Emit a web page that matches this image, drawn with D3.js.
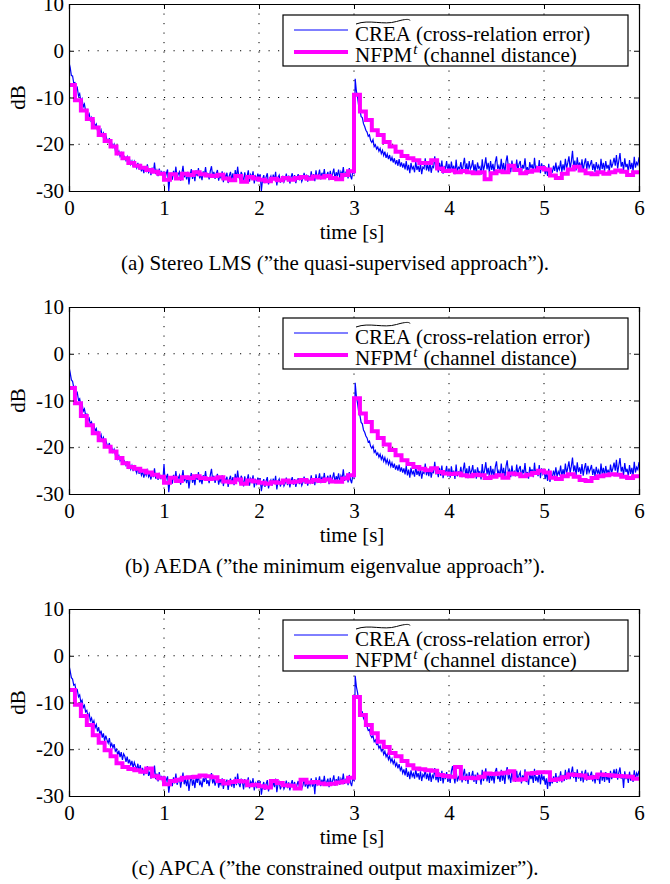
<!DOCTYPE html>
<html>
<head>
<meta charset="utf-8">
<script src="https://cdn.jsdelivr.net/npm/d3@7"></script>
<style>
  html, body { margin: 0; padding: 0; background: #fff; }
  svg { display: block; }
  text { font-family: "Liberation Serif", "Times New Roman", serif; fill: #000; }
</style>
</head>
<body>
<svg id="chart" width="670" height="884"></svg>
<script>
// ---------------- data ----------------
const timeTicks = [0, 1, 2, 3, 4, 5, 6];
const dbTicks = [-30, -20, -10, 0, 10];
const creaStep = 0.0125;  // seconds between CREA samples
const nfpmStep = 0.0625;  // seconds per NFPM block

// (a) Stereo LMS — CREA, one row = 0.25 s
const creaA = [
-2.5,-3.6,-5.3,-5.4,-6.9,-6.8,-8.4,-7.9,-9.7,-9.2,-10.9,-10.3,-12.0,-11.4,-12.9,-12.6,-14.0,-13.5,-14.9,-14.3,
-15.6,-15.0,-16.2,-15.7,-17.1,-16.4,-17.5,-16.9,-18.2,-17.6,-18.9,-18.1,-19.0,-19.5,-18.7,-20.3,-19.8,-20.6,-20.0,-21.3,
-21.0,-22.1,-21.5,-22.6,-21.9,-23.0,-22.4,-22.8,-23.5,-22.7,-23.9,-23.2,-24.3,-23.6,-24.8,-23.7,-24.5,-25.1,-24.0,-25.4,
-24.6,-25.8,-24.9,-26.2,-25.1,-25.7,-24.3,-26.0,-25.5,-26.6,-25.0,-26.1,-23.9,-26.4,-25.6,-26.8,-25.2,-26.3,-25.9,-27.1,
-25.8,-27.3,-26.2,-25.4,-30.0,-27.0,-26.1,-27.6,-25.7,-26.9,-24.8,-27.2,-26.4,-25.9,-27.8,-26.3,-24.6,-27.1,-26.0,-27.5,
-25.9,-28.6,-26.6,-25.3,-27.4,-26.1,-27.9,-25.6,-26.8,-25.1,-27.3,-26.5,-27.7,-25.8,-26.6,-24.9,-27.0,-26.2,-27.5,-25.7,
-24.7,-26.9,-25.9,-27.4,-26.3,-25.5,-27.8,-26.6,-27.2,-25.8,-28.1,-26.4,-27.0,-26.1,-28.3,-26.7,-25.9,-27.6,-26.2,-27.9,
-25.5,-27.3,-24.8,-26.9,-27.7,-25.9,-26.6,-28.2,-26.0,-27.4,-26.8,-25.6,-28.0,-26.5,-27.1,-25.8,-28.4,-26.9,-27.6,-26.3,
-27.2,-26.4,-30.0,-27.5,-26.6,-28.3,-27.0,-26.2,-28.6,-27.4,-26.8,-28.0,-26.5,-27.7,-25.9,-28.8,-27.1,-26.6,-28.2,-27.3,
-26.9,-28.1,-27.5,-26.3,-27.9,-26.7,-28.4,-27.0,-26.2,-27.8,-26.6,-28.3,-27.2,-26.4,-27.7,-26.8,-28.0,-27.3,-26.1,-27.6,
-26.5,-28.0,-26.9,-27.4,-25.8,-27.6,-26.4,-27.9,-25.6,-27.2,-26.7,-25.4,-27.5,-26.1,-27.0,-25.3,-27.3,-26.6,-25.9,-27.7,
-25.7,-27.1,-26.3,-25.2,-27.4,-26.0,-26.8,-25.4,-27.2,-25.9,-26.6,-24.9,-27.0,-26.2,-25.5,-27.3,-25.1,-26.7,-27.5,-25.8,
-26.2,-6.0,-8.6,-10.0,-11.9,-12.6,-14.1,-14.3,-15.6,-16.2,-17.0,-17.4,-18.3,-18.0,-19.2,-19.6,-19.0,-20.5,-20.1,-21.0,
-20.6,-21.5,-20.9,-22.0,-21.3,-22.4,-21.6,-22.9,-22.1,-23.2,-22.3,-23.6,-22.8,-23.9,-23.0,-24.3,-23.4,-24.6,-23.2,-24.8,
-23.9,-25.0,-24.1,-25.4,-23.6,-25.6,-24.4,-26.2,-24.0,-25.3,-24.8,-26.0,-23.7,-25.5,-24.6,-25.9,-24.2,-26.4,-24.9,-25.2,
-23.0,-25.6,-24.3,-25.8,-23.9,-26.1,-24.7,-25.0,-22.6,-25.4,-24.5,-26.0,-24.0,-25.7,-23.5,-26.3,-24.8,-25.1,-23.6,-25.9,
-24.2,-26.1,-23.7,-25.5,-24.6,-26.4,-23.3,-25.8,-24.9,-25.2,-23.8,-26.0,-24.4,-22.9,-25.6,-24.1,-26.2,-23.6,-25.3,-24.7,
-23.4,-25.9,-24.3,-26.3,-23.9,-25.1,-24.8,-26.5,-23.2,-25.7,-24.5,-22.8,-25.4,-24.0,-26.0,-23.6,-25.5,-24.2,-26.1,-23.8,
-22.6,-25.3,-24.6,-25.9,-23.1,-25.6,-24.0,-26.2,-23.7,-22.4,-25.0,-24.4,-26.0,-23.5,-25.4,-24.8,-25.8,-23.3,-25.5,-24.2,
-23.6,-26.1,-24.4,-25.2,-23.0,-25.7,-24.9,-26.3,-23.8,-25.1,-24.3,-26.0,-22.9,-25.5,-24.6,-25.8,-23.4,-26.2,-24.1,-25.3,
-24.5,-26.4,-25.0,-26.8,-24.2,-27.0,-25.3,-26.1,-24.6,-25.7,-23.9,-26.0,-24.8,-25.4,-23.5,-25.9,-24.3,-25.6,-23.1,-25.2,
-24.0,-22.6,-25.1,-23.7,-21.4,-24.8,-23.5,-25.6,-22.8,-24.9,-23.9,-25.3,-23.2,-25.7,-24.1,-23.0,-25.4,-23.6,-25.0,-24.3,
-23.4,-25.5,-24.2,-25.9,-23.8,-25.1,-24.5,-26.0,-23.1,-25.3,-24.0,-25.7,-23.6,-25.2,-24.4,-25.8,-23.3,-25.0,-24.1,-22.9,
-24.6,-22.3,-25.2,-23.5,-21.9,-24.8,-23.8,-25.6,-23.0,-24.9,-24.2,-25.9,-23.4,-25.3,-24.0,-25.7,-22.7,-25.0,-23.9,-24.4,
-22.8
];
// (a) NFPM^t, one row = 1 s
const nfpmA = [
-7.3,-10.6,-12.8,-14.6,-16.4,-18.0,-19.3,-20.5,-22.0,-23.0,-24.0,-24.6,-25.0,-25.5,-25.9,-26.3,
-27.6,-26.4,-27.3,-26.3,-26.6,-26.0,-26.4,-26.7,-26.8,-26.5,-27.3,-27.7,-26.8,-28.0,-27.0,-27.3,
-27.6,-27.9,-27.4,-27.7,-27.2,-27.6,-27.2,-27.0,-27.4,-26.9,-27.1,-26.8,-27.2,-27.5,-26.6,-25.8,
-9.4,-13.0,-14.8,-17.0,-18.0,-19.5,-20.5,-21.6,-22.5,-23.0,-23.4,-24.0,-24.0,-23.4,-25.2,-25.7,
-25.6,-26.0,-25.7,-26.0,-26.2,-26.0,-27.5,-26.2,-25.8,-26.0,-24.6,-25.5,-26.2,-25.9,-25.6,-25.1,
-25.4,-26.7,-27.2,-26.3,-25.4,-24.8,-25.6,-26.2,-26.4,-26.0,-26.3,-26.0,-25.6,-25.9,-26.6,-26.0
];

// (b) AEDA — CREA
const creaB = [
-2.8,-4.1,-5.6,-5.9,-7.2,-7.0,-8.7,-8.3,-9.9,-9.6,-11.2,-10.6,-12.3,-11.8,-13.2,-12.9,-14.3,-13.8,-15.1,-14.6,
-15.9,-15.3,-16.5,-16.0,-17.4,-16.8,-17.9,-17.3,-18.6,-17.9,-19.2,-18.5,-19.4,-19.9,-19.1,-20.6,-20.1,-21.0,-20.4,-21.6,
-21.4,-22.5,-21.8,-22.9,-22.3,-23.4,-22.7,-23.1,-23.9,-23.0,-24.3,-23.6,-24.7,-23.9,-25.1,-24.1,-24.8,-25.5,-24.3,-25.7,
-24.9,-26.0,-25.2,-26.5,-25.4,-26.0,-24.6,-26.3,-25.8,-26.9,-25.3,-26.4,-24.5,-26.7,-25.9,-27.0,-25.5,-26.6,-26.2,-27.3,
-23.6,-27.5,-26.4,-25.7,-29.6,-27.2,-26.3,-27.8,-25.9,-27.1,-25.1,-27.4,-26.6,-26.0,-28.0,-26.5,-24.9,-27.3,-26.2,-27.7,
-26.1,-28.8,-26.8,-25.5,-27.6,-26.3,-28.1,-25.8,-27.0,-25.3,-27.5,-26.7,-27.9,-26.0,-26.8,-25.1,-27.2,-26.4,-27.7,-25.9,
-24.6,-27.1,-26.1,-27.6,-26.5,-25.7,-28.0,-26.8,-27.4,-26.0,-28.3,-26.6,-27.2,-26.3,-28.5,-26.9,-26.1,-27.8,-26.4,-28.1,
-25.7,-27.5,-25.0,-27.1,-27.9,-26.1,-26.8,-28.4,-26.2,-27.6,-27.0,-25.8,-28.2,-26.7,-27.3,-26.0,-28.6,-27.1,-27.8,-26.5,
-27.4,-26.6,-29.4,-27.7,-26.8,-28.5,-27.2,-26.4,-28.8,-27.6,-27.0,-28.2,-26.7,-27.9,-26.1,-29.0,-27.3,-26.8,-28.4,-27.5,
-27.1,-28.3,-27.7,-26.5,-28.1,-26.9,-28.6,-27.2,-26.4,-28.0,-26.8,-28.5,-27.4,-26.6,-27.9,-27.0,-28.2,-27.5,-26.3,-27.8,
-26.7,-28.2,-27.1,-27.6,-26.0,-27.8,-26.6,-28.1,-25.8,-27.4,-26.9,-25.6,-27.7,-26.3,-27.2,-25.5,-27.5,-26.8,-26.1,-27.9,
-25.9,-27.3,-26.5,-25.4,-27.6,-26.2,-27.0,-25.6,-27.4,-26.1,-26.8,-24.7,-27.2,-26.4,-25.7,-27.5,-25.3,-26.9,-27.7,-26.0,
-26.4,-6.2,-9.1,-10.6,-12.5,-13.2,-14.7,-15.0,-16.3,-16.8,-17.6,-18.0,-18.9,-18.7,-19.8,-20.2,-19.7,-21.1,-20.7,-21.6,
-21.2,-22.1,-21.5,-22.6,-21.9,-23.0,-22.2,-23.4,-22.6,-23.7,-22.9,-24.1,-23.3,-24.4,-23.5,-24.8,-23.9,-25.0,-23.7,-25.2,
-24.3,-25.4,-24.5,-25.8,-24.0,-26.0,-24.8,-26.5,-24.4,-25.7,-25.2,-26.3,-24.1,-25.9,-25.0,-26.2,-24.6,-26.7,-25.3,-25.6,
-23.5,-26.0,-24.7,-26.2,-24.3,-26.5,-25.1,-25.4,-23.1,-25.8,-24.9,-26.4,-24.4,-26.1,-23.9,-26.6,-25.2,-25.5,-24.0,-26.3,
-24.6,-26.5,-24.1,-25.9,-25.0,-26.8,-23.7,-26.2,-25.3,-25.6,-24.2,-26.4,-24.8,-23.3,-26.0,-24.5,-26.6,-24.0,-25.7,-25.1,
-23.8,-26.3,-24.7,-26.7,-24.3,-25.5,-25.2,-26.9,-23.6,-26.1,-24.9,-23.2,-25.8,-24.4,-26.4,-24.0,-25.9,-24.6,-26.5,-24.2,
-23.0,-25.7,-25.0,-26.3,-23.5,-26.0,-24.4,-26.6,-24.1,-22.8,-25.4,-24.8,-26.4,-23.9,-25.8,-25.2,-26.2,-23.7,-25.9,-24.6,
-24.0,-26.5,-24.8,-25.6,-23.4,-26.1,-25.3,-26.7,-24.2,-25.5,-24.7,-26.4,-23.3,-25.9,-25.0,-26.2,-23.8,-26.6,-24.5,-25.7,
-24.9,-26.8,-25.4,-27.2,-24.6,-27.4,-25.7,-26.5,-25.0,-26.1,-24.3,-26.4,-25.2,-25.8,-23.9,-26.3,-24.7,-26.0,-23.5,-25.6,
-24.4,-23.0,-25.5,-24.1,-22.2,-25.2,-23.9,-26.0,-23.2,-25.3,-24.3,-25.7,-23.6,-26.1,-24.5,-23.4,-25.8,-24.0,-25.4,-24.7,
-23.8,-25.9,-24.6,-26.3,-24.2,-25.5,-24.9,-26.4,-23.5,-25.7,-24.4,-26.1,-24.0,-25.6,-24.8,-26.2,-23.7,-25.4,-24.5,-23.3,
-25.0,-22.7,-25.6,-23.9,-22.3,-25.2,-24.2,-26.0,-23.4,-25.3,-24.6,-26.3,-23.8,-25.7,-24.4,-26.1,-23.1,-25.4,-24.3,-24.8,
-23.2
];
const nfpmB = [
-7.3,-10.6,-13.3,-15.3,-17.0,-18.5,-19.9,-20.9,-22.3,-23.4,-24.2,-24.6,-25.0,-25.4,-25.9,-26.3,
-27.6,-26.5,-27.2,-26.4,-26.6,-26.2,-26.6,-26.8,-26.7,-26.4,-27.3,-27.5,-26.9,-27.8,-27.1,-27.3,
-27.6,-27.8,-27.5,-27.6,-27.1,-27.5,-27.3,-27.0,-27.4,-27.0,-27.2,-26.9,-27.3,-27.4,-26.7,-26.0,
-9.5,-12.8,-14.6,-16.6,-18.0,-19.4,-20.6,-21.7,-22.8,-23.6,-24.2,-24.6,-24.9,-24.5,-25.3,-25.6,
-25.7,-25.6,-26.0,-26.2,-25.9,-26.0,-26.6,-26.3,-26.0,-26.5,-25.6,-25.8,-26.2,-25.9,-25.5,-25.0,
-25.4,-26.5,-26.8,-26.2,-25.8,-26.3,-27.0,-27.2,-26.6,-26.2,-26.0,-25.8,-25.9,-26.3,-26.6,-26.2
];

// (c) APCA — CREA
const creaC = [
-2.0,-3.3,-4.7,-5.0,-6.3,-6.1,-7.6,-7.3,-8.8,-8.4,-10.0,-9.5,-11.1,-10.6,-12.0,-11.7,-13.0,-12.4,-13.9,-13.3,
-14.6,-13.9,-15.4,-14.7,-16.2,-15.3,-16.9,-16.0,-17.5,-16.6,-18.2,-17.1,-18.0,-18.7,-17.6,-19.4,-18.8,-19.7,-18.9,-20.4,
-20.0,-21.2,-20.3,-21.7,-20.6,-22.3,-21.0,-21.5,-22.7,-21.6,-23.0,-22.2,-23.5,-22.5,-24.0,-22.8,-23.6,-24.3,-23.1,-24.7,
-23.4,-25.1,-24.0,-25.6,-24.2,-25.3,-23.6,-25.7,-24.8,-26.3,-24.5,-25.9,-23.5,-26.4,-25.2,-26.9,-24.9,-26.5,-25.7,-27.4,
-25.7,-27.6,-26.5,-25.8,-29.3,-27.4,-26.4,-27.9,-26.0,-27.3,-25.2,-27.6,-26.8,-26.1,-28.2,-26.6,-25.0,-27.5,-26.4,-27.9,
-26.2,-28.9,-27.0,-25.6,-27.8,-26.5,-28.3,-25.9,-27.2,-25.4,-27.7,-26.9,-28.1,-26.2,-27.0,-25.3,-27.4,-26.6,-27.9,-26.1,
-25.1,-27.3,-26.3,-27.8,-26.7,-25.9,-28.2,-27.0,-27.6,-26.2,-28.5,-26.8,-27.4,-26.5,-28.7,-27.1,-26.3,-28.0,-26.6,-28.3,
-25.9,-27.7,-25.2,-27.3,-28.1,-26.3,-27.0,-28.6,-26.4,-27.8,-27.2,-26.0,-28.4,-26.9,-27.5,-26.2,-28.8,-27.3,-28.0,-26.7,
-27.6,-26.8,-29.7,-27.9,-27.0,-28.7,-27.4,-26.6,-29.0,-27.8,-27.2,-28.4,-26.9,-28.1,-26.3,-29.2,-27.5,-27.0,-28.6,-27.7,
-27.3,-28.5,-27.9,-26.7,-28.3,-27.1,-28.8,-27.4,-26.6,-28.2,-27.0,-28.7,-27.6,-26.8,-28.1,-27.2,-28.4,-27.7,-26.5,-28.0,
-26.9,-28.4,-27.3,-27.8,-26.2,-28.0,-26.8,-29.6,-26.0,-27.6,-27.1,-25.8,-27.9,-26.5,-27.4,-25.7,-27.7,-27.0,-26.3,-28.1,
-26.1,-27.5,-26.7,-25.6,-27.8,-26.4,-27.2,-25.8,-27.6,-26.3,-27.0,-25.2,-27.4,-26.6,-25.9,-27.7,-25.5,-27.1,-27.9,-26.2,
-26.6,-4.3,-6.6,-7.9,-9.6,-10.3,-11.8,-12.0,-13.4,-13.9,-14.7,-15.2,-16.0,-15.8,-17.0,-17.5,-17.1,-18.4,-18.0,-19.0,
-18.8,-19.8,-19.3,-20.4,-19.9,-21.1,-20.4,-21.6,-21.0,-22.2,-21.5,-22.7,-22.0,-23.1,-22.4,-23.6,-23.0,-24.1,-23.2,-24.5,
-23.9,-25.1,-24.3,-25.6,-24.0,-25.9,-24.8,-26.4,-24.5,-25.8,-25.2,-26.3,-24.2,-26.0,-25.1,-26.5,-24.7,-26.8,-25.4,-25.9,
-24.3,-26.4,-25.2,-26.7,-24.8,-27.0,-25.6,-26.1,-24.0,-26.6,-25.5,-27.1,-25.0,-26.8,-24.6,-27.3,-25.8,-26.2,-24.9,-27.0,
-25.3,-27.2,-24.7,-23.6,-25.8,-27.3,-24.5,-26.9,-25.9,-26.4,-24.8,-27.1,-25.5,-24.2,-26.8,-25.2,-27.4,-24.9,-26.5,-25.8,
-24.6,-27.0,-25.4,-27.4,-25.0,-26.2,-25.9,-27.6,-24.4,-26.8,-25.6,-24.1,-26.9,-25.3,-27.2,-24.9,-26.7,-25.4,-27.3,-24.8,
-24.0,-26.4,-25.7,-27.0,-24.4,-26.7,-25.2,-27.4,-24.9,-23.8,-26.2,-25.6,-27.2,-24.8,-26.6,-25.9,-27.0,-24.6,-26.8,-25.5,
-24.9,-27.3,-25.6,-26.5,-24.3,-27.0,-26.1,-27.6,-25.0,-26.4,-25.5,-27.2,-24.2,-26.8,-25.8,-27.1,-24.7,-27.5,-25.3,-26.6,
-25.7,-27.6,-26.2,-28.5,-25.4,-27.9,-26.4,-27.3,-25.8,-26.9,-25.1,-27.2,-26.0,-26.6,-24.7,-27.1,-25.5,-26.8,-24.4,-26.5,
-25.2,-24.1,-26.4,-25.0,-23.7,-26.2,-24.9,-27.0,-24.3,-26.3,-25.2,-26.8,-24.6,-27.1,-25.4,-24.4,-26.7,-25.0,-26.5,-25.6,
-24.8,-26.9,-25.5,-27.3,-25.1,-26.6,-25.8,-27.4,-24.5,-26.7,-25.3,-27.0,-24.9,-26.6,-25.7,-27.2,-24.6,-26.4,-25.4,-24.3,
-25.9,-24.2,-26.5,-25.0,-23.9,-26.3,-25.3,-28.3,-24.7,-26.4,-25.6,-27.2,-24.8,-26.7,-25.5,-27.0,-24.5,-26.4,-25.1,-25.7,
-24.6
];
const nfpmC = [
-7.3,-10.5,-12.9,-14.8,-17.0,-18.6,-20.2,-21.5,-23.0,-23.8,-24.2,-24.5,-24.8,-24.1,-25.8,-26.2,
-27.5,-26.8,-26.5,-26.1,-26.0,-25.9,-25.6,-25.8,-26.0,-26.8,-27.3,-27.0,-26.8,-26.9,-27.7,-27.6,
-27.9,-28.2,-26.8,-27.2,-27.7,-27.8,-28.4,-26.5,-27.1,-27.0,-27.3,-27.5,-27.4,-27.1,-26.9,-26.1,
-8.8,-12.7,-14.8,-16.6,-18.4,-19.5,-20.8,-21.5,-22.5,-23.4,-24.1,-24.3,-24.5,-24.6,-25.5,-25.7,
-25.9,-23.8,-26.2,-26.1,-26.2,-25.9,-25.2,-25.3,-25.2,-25.0,-24.7,-26.5,-26.4,-25.2,-25.1,-24.9,
-24.9,-26.6,-26.4,-26.0,-25.4,-25.5,-25.6,-26.1,-26.0,-25.4,-25.5,-25.6,-25.7,-25.8,-25.9,-26.3
];

const captions = [
  "(a) Stereo LMS (\u201dthe quasi-supervised approach\u201d).",
  "(b) AEDA (\u201dthe minimum eigenvalue approach\u201d).",
  "(c) APCA (\u201dthe constrained output maximizer\u201d)."
];
const xLabel = "time [s]";
const yLabel = "dB";
const legendCrea = ["CREA", "(cross-relation error)"];
const legendNfpm = ["NFPM", "t", "(channel distance)"];

// ---------------- layout ----------------
const svg = d3.select("#chart");
const plotLeft = 69, plotW = 570, plotH = 187;
const panelTops = [4, 307, 609];
const BLUE = "#0000ff", MAGENTA = "#ff00ff";
const fs = 21;

const x = d3.scaleLinear().domain([0, 6]).range([0, plotW]);
const y = d3.scaleLinear().domain([-30, 10]).range([plotH, 0]);

svg.append("defs").append("clipPath").attr("id", "plotclip")
  .append("rect").attr("x", 0).attr("y", 0).attr("width", plotW).attr("height", plotH);

const panels = [
  { crea: creaA, nfpm: nfpmA, caption: captions[0] },
  { crea: creaB, nfpm: nfpmB, caption: captions[1] },
  { crea: creaC, nfpm: nfpmC, caption: captions[2] }
];

panels.forEach((p, pi) => {
  const g = svg.append("g").attr("transform", `translate(${plotLeft},${panelTops[pi]})`);

  // dotted grid
  const grid = g.append("g").attr("stroke", "#000").attr("stroke-width", 1)
    .attr("stroke-dasharray", "1.2,8.3");
  timeTicks.slice(1, -1).forEach(t => {
    grid.append("line").attr("x1", x(t)).attr("x2", x(t)).attr("y1", 0).attr("y2", plotH);
  });
  dbTicks.slice(1, -1).forEach(v => {
    grid.append("line").attr("x1", 0).attr("x2", plotW).attr("y1", y(v)).attr("y2", y(v));
  });

  const body = g.append("g").attr("clip-path", "url(#plotclip)");
  const blueLine = d3.line().x((d, i) => x(i * creaStep)).y(d => y(d));
  body.append("path").datum(p.crea)
    .attr("d", blueLine).attr("fill", "none").attr("stroke", BLUE)
    .attr("stroke-width", 1.2);

  const stairs = p.nfpm.concat([p.nfpm[p.nfpm.length - 1]]);
  const magLine = d3.line().curve(d3.curveStepAfter)
    .x((d, i) => x(Math.min(i * nfpmStep, 6))).y(d => y(d));
  body.append("path").datum(stairs)
    .attr("d", magLine).attr("fill", "none").attr("stroke", MAGENTA)
    .attr("stroke-width", 4).attr("stroke-linejoin", "miter");

  // axes: inward ticks on all four sides
  const axB = g.append("g").attr("transform", `translate(0,${plotH})`)
    .call(d3.axisBottom(x).tickValues(timeTicks).tickSize(-5).tickPadding(9).tickFormat(d3.format("d")));
  const axT = g.append("g")
    .call(d3.axisTop(x).tickValues(timeTicks).tickSize(-5).tickFormat(""));
  const axL = g.append("g")
    .call(d3.axisLeft(y).tickValues(dbTicks).tickSize(-5).tickPadding(5)
      .tickFormat(d => (d < 0 ? "-" : "") + Math.abs(d)));
  const axR = g.append("g").attr("transform", `translate(${plotW},0)`)
    .call(d3.axisRight(y).tickValues(dbTicks).tickSize(-5).tickFormat(""));
  [axB, axT, axL, axR].forEach(a => {
    a.attr("font-family", null).attr("font-size", null);
    a.select(".domain").attr("stroke", "#000").attr("stroke-width", 1.2);
    a.selectAll(".tick line").attr("stroke", "#000").attr("stroke-width", 1);
    a.selectAll("text").attr("font-size", fs).attr("fill", "#000");
  });

  // axis titles
  g.append("text").attr("x", plotW / 2 - 2).attr("y", plotH + 48)
    .attr("text-anchor", "middle").attr("font-size", fs).text(xLabel);
  g.append("text").attr("transform", `translate(${-44},${plotH / 2}) rotate(-90)`)
    .attr("text-anchor", "middle").attr("font-size", fs).text(yLabel);

  // legend
  const lg = g.append("g").attr("transform", "translate(214,11)");
  lg.append("rect").attr("x", 0).attr("y", 0).attr("width", 345).attr("height", 51)
    .attr("fill", "#fff").attr("stroke", "#000").attr("stroke-width", 1.2);
  lg.append("line").attr("x1", 11).attr("x2", 65).attr("y1", 15).attr("y2", 15)
    .attr("stroke", BLUE).attr("stroke-width", 1);
  lg.append("line").attr("x1", 11).attr("x2", 65).attr("y1", 37).attr("y2", 37)
    .attr("stroke", MAGENTA).attr("stroke-width", 4);

  const t1a = lg.append("text").attr("x", 72).attr("y", 25.5).attr("font-size", fs).text(legendCrea[0]);
  const w1 = t1a.node().getComputedTextLength();
  lg.append("text").attr("x", 72 + w1 + 5).attr("y", 25.5).attr("font-size", fs).text(legendCrea[1]);
  // wide tilde over CREA
  const tx0 = 73, tx1 = 72 + w1 - 1, ty = 7;
  const tw = tx1 - tx0;
  lg.append("path")
    .attr("d", `M${tx0},${ty + 2} C${tx0 + tw * 0.25},${ty - 3} ${tx0 + tw * 0.5},${ty + 3.5} ${tx0 + tw * 0.75},${ty - 0.5} S${tx1},${ty - 1.5} ${tx1},${ty - 1.5}`)
    .attr("fill", "none").attr("stroke", "#000").attr("stroke-width", 1);

  const t2 = lg.append("text").attr("x", 72).attr("y", 46.5).attr("font-size", fs);
  t2.append("tspan").text(legendNfpm[0]);
  t2.append("tspan").attr("font-style", "italic").attr("font-size", 15).attr("dy", -8).attr("dx", 1).text(legendNfpm[1]);
  t2.append("tspan").attr("dy", 8).attr("dx", 6).text(legendNfpm[2]);

  // caption
  svg.append("text").attr("x", 335).attr("y", panelTops[pi] + plotH + 79)
    .attr("text-anchor", "middle").attr("font-size", fs).text(p.caption);
});
</script>
</body>
</html>
